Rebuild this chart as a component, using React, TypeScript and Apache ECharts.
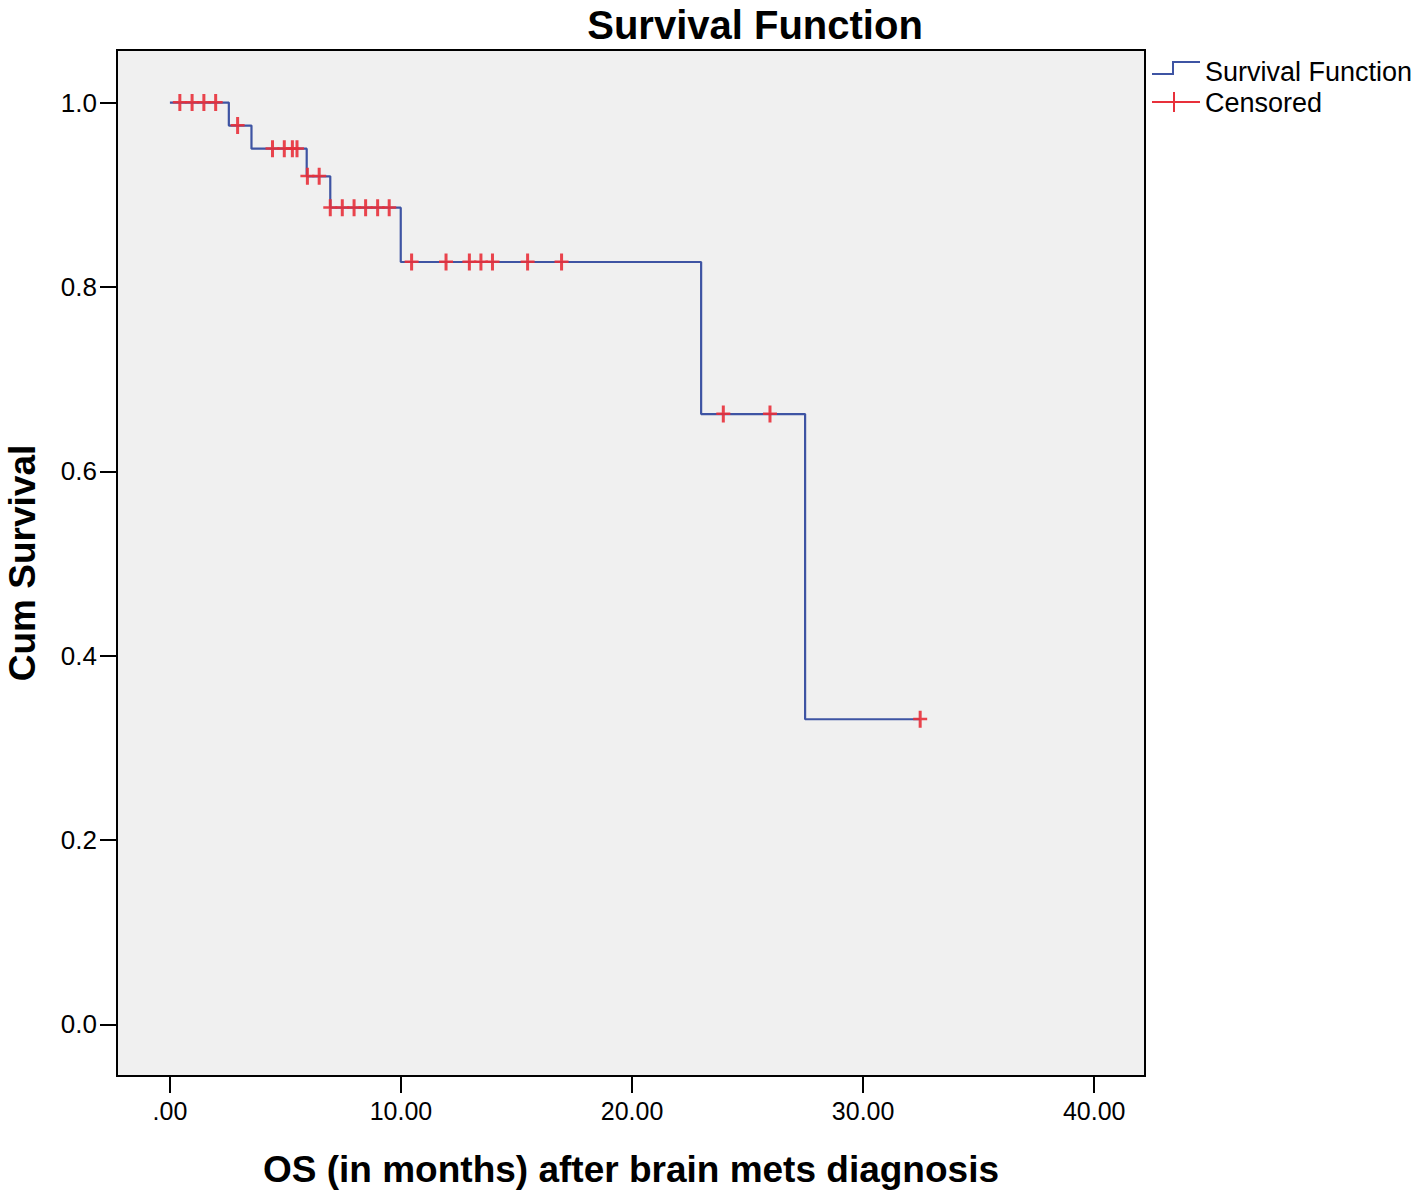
import React, { useEffect, useRef } from "react";
import * as echarts from "echarts";

// ---- data ----
const xTicks = [0, 10, 20, 30, 40];
const xTickLabels = [".00", "10.00", "20.00", "30.00", "40.00"];
const yTicks = [0, 0.2, 0.4, 0.6, 0.8, 1.0];
const yTickLabels = ["0.0", "0.2", "0.4", "0.6", "0.8", "1.0"];

// Kaplan-Meier step function (time in months, cumulative survival)
const stepTimes = [0, 2.55, 3.53, 5.92, 6.94, 9.99, 22.99, 27.49, 32.47];
const stepSurv = [1.0, 0.975, 0.95, 0.92, 0.886, 0.827, 0.662, 0.331, 0.331];

// Censored observations
const censorTimes = [
  0.43, 0.96, 1.47, 1.98,
  2.93,
  4.44, 4.95, 5.3, 5.5,
  5.95, 6.46,
  6.94, 7.46, 7.97, 8.47, 8.99, 9.49,
  10.46, 11.95, 12.96, 13.46, 13.96, 15.48, 16.95,
  23.95, 25.97,
  32.47,
];
const censorSurv = [
  1.0, 1.0, 1.0, 1.0,
  0.975,
  0.95, 0.95, 0.95, 0.95,
  0.92, 0.92,
  0.886, 0.886, 0.886, 0.886, 0.886, 0.886,
  0.827, 0.827, 0.827, 0.827, 0.827, 0.827, 0.827,
  0.662, 0.662,
  0.331,
];

const FONT = "'Liberation Sans', Arial, sans-serif";
const BLUE = "#3e54a3";
const RED = "#e8303a";
const PLUS = "path://M5.5,0 H8.5 V7 H14 V9.5 H8.5 V17 H5.5 V9.5 H0 V7 H5.5 Z";

export default function App() {
  const ref = useRef<HTMLDivElement>(null);

  useEffect(() => {
    if (!ref.current) return;
    const chart = echarts.init(ref.current, null, { renderer: "svg" });
    const stepData = stepTimes.map((t, i) => [t, stepSurv[i]]);
    const censorData = censorTimes.map((t, i) => [t, censorSurv[i]]);

    chart.setOption({
      animation: false,
      backgroundColor: "#ffffff",
      title: {
        text: "Survival Function",
        left: 750,
        top: 0,
        textAlign: "center",
        textStyle: { fontFamily: FONT, fontSize: 40, fontWeight: "bold", color: "#000" },
      },
      grid: {
        left: 117,
        top: 50,
        width: 1028,
        height: 1026,
        containLabel: false,
        outerBoundsMode: "none",
        show: true,
        backgroundColor: "#f0f0f0",
        borderColor: "#000",
        borderWidth: 2,
      },
      xAxis: {
        type: "value",
        min: -2.29,
        max: 42.2,
        name: "OS (in months) after brain mets diagnosis",
        nameLocation: "middle",
        nameGap: 75,
        nameTextStyle: { fontFamily: FONT, fontSize: 37, fontWeight: "bold", color: "#000" },
        axisLine: { show: true, onZero: false, lineStyle: { color: "#000", width: 2 } },
        axisTick: {
          show: true,
          length: 17,
          customValues: xTicks,
          lineStyle: { color: "#000", width: 2 },
        },
        axisLabel: {
          customValues: xTicks,
          margin: 22,
          fontFamily: FONT,
          fontSize: 25,
          color: "#000",
          formatter: (v: number) => xTickLabels[xTicks.indexOf(v)] ?? "",
        },
        splitLine: { show: false },
      },
      yAxis: {
        type: "value",
        min: -0.056,
        max: 1.057,
        name: "Cum Survival",
        nameLocation: "middle",
        nameGap: 76,
        nameRotate: 90,
        nameTextStyle: { fontFamily: FONT, fontSize: 37, fontWeight: "bold", color: "#000" },
        axisLine: { show: true, onZero: false, lineStyle: { color: "#000", width: 2 } },
        axisTick: {
          show: true,
          length: 17,
          customValues: yTicks,
          lineStyle: { color: "#000", width: 2 },
        },
        axisLabel: {
          customValues: yTicks,
          margin: 20,
          fontFamily: FONT,
          fontSize: 26,
          color: "#000",
          formatter: (v: number) => {
            const i = yTicks.findIndex((t) => Math.abs(t - v) < 1e-9);
            return i >= 0 ? yTickLabels[i] : "";
          },
        },
        splitLine: { show: false },
      },
      series: [
        {
          name: "Survival Function",
          type: "line",
          step: "end",
          data: stepData,
          showSymbol: false,
          lineStyle: { color: BLUE, width: 2.2 },
          itemStyle: { color: BLUE },
          z: 2,
        },
        {
          name: "Censored",
          type: "scatter",
          data: censorData,
          symbol: PLUS,
          symbolSize: [14, 17],
          itemStyle: { color: RED, opacity: 0.9 },
          z: 3,
        },
      ],
      graphic: [
        {
          type: "polyline",
          shape: { points: [[1152, 74], [1173, 74], [1173, 62], [1200, 62]] },
          style: { stroke: BLUE, lineWidth: 2, fill: "none" },
        },
        {
          type: "text",
          x: 1205,
          y: 72,
          style: {
            text: "Survival Function",
            fontFamily: FONT,
            fontSize: 27,
            fill: "#000",
            verticalAlign: "middle",
            align: "left",
          },
        },
        {
          type: "line",
          shape: { x1: 1152, y1: 102, x2: 1200, y2: 102 },
          style: { stroke: RED, lineWidth: 2 },
        },
        {
          type: "line",
          shape: { x1: 1174, y1: 92, x2: 1174, y2: 112 },
          style: { stroke: RED, lineWidth: 2 },
        },
        {
          type: "text",
          x: 1205,
          y: 103,
          style: {
            text: "Censored",
            fontFamily: FONT,
            fontSize: 27,
            fill: "#000",
            verticalAlign: "middle",
            align: "left",
          },
        },
      ],
    });

    return () => chart.dispose();
  }, []);

  return (
    <div
      ref={ref}
      style={{ position: "fixed", left: 0, top: 0, width: 1416, height: 1195, background: "#fff" }}
    />
  );
}
